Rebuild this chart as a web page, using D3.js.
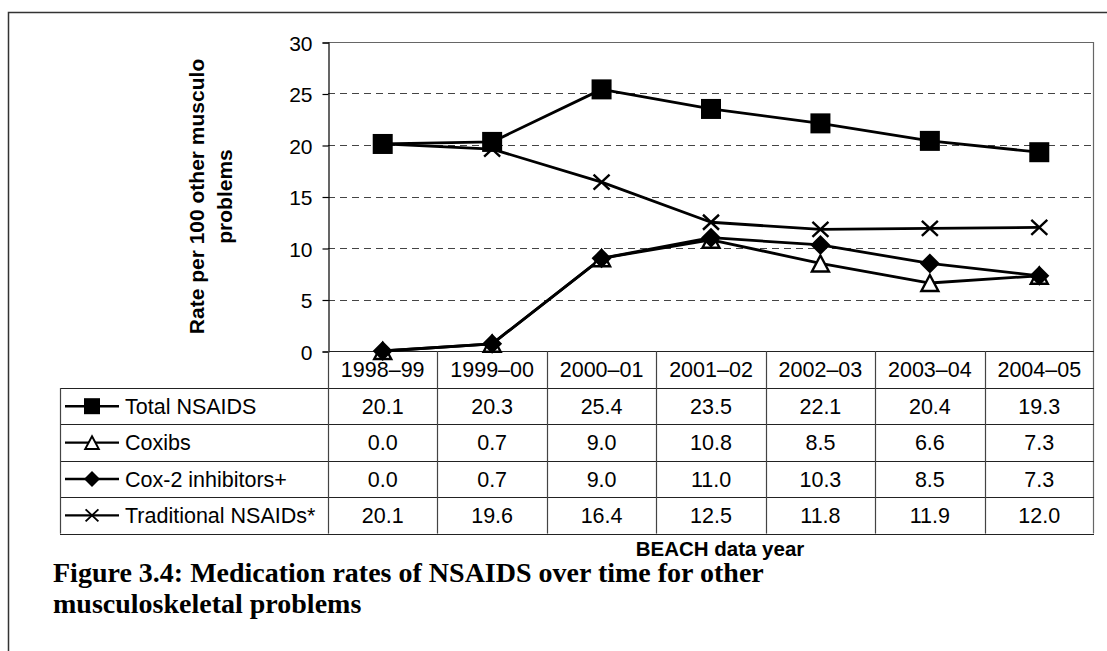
<!DOCTYPE html>
<html>
<head>
<meta charset="utf-8">
<script src="https://cdn.jsdelivr.net/npm/d3@7/dist/d3.min.js"></script>
<style>
  html, body { margin: 0; padding: 0; background: #fff; }
  svg { display: block; }
  text { font-family: "Liberation Sans", Arial, sans-serif; fill: #000; }
</style>
</head>
<body>
<svg id="chart" width="1107" height="651"></svg>
<script>
// Data: BEACH data year categories and rates per 100 other musculoskeletal problems
const categories = ["1998–99", "1999–00", "2000–01", "2001–02", "2002–03", "2003–04", "2004–05"];
const totalNsaids = [20.1, 20.3, 25.4, 23.5, 22.1, 20.4, 19.3];
const coxibs = [0.0, 0.7, 9.0, 10.8, 8.5, 6.6, 7.3];
const cox2Inhibitors = [0.0, 0.7, 9.0, 11.0, 10.3, 8.5, 7.3];
const traditionalNsaids = [20.1, 19.6, 16.4, 12.5, 11.8, 11.9, 12.0];
const seriesNames = ["Total NSAIDS", "Coxibs", "Cox-2 inhibitors+", "Traditional NSAIDs*"];
const seriesMarkers = ["square", "triangle", "diamond", "cross"];
const yTicks = [0, 5, 10, 15, 20, 25, 30];

const series = [totalNsaids, coxibs, cox2Inhibitors, traditionalNsaids].map((values, i) => ({
  name: seriesNames[i], marker: seriesMarkers[i], values
}));

const svg = d3.select("#chart");

// Layout
const plotLeft = 328, plotRight = 1094, plotTop = 42, plotBottom = 351;
const headerH = 37, rowH = 36.4;
const legendLeft = 60;
const tableBottom = plotBottom + headerH + rowH * series.length;
const tableFont = "21.5px";

const x = d3.scaleBand().domain(categories).range([plotLeft, plotRight]);
const y = d3.scaleLinear().domain([0, 30]).range([plotBottom, plotTop]);

// Outer frame (top and left edges)
svg.append("path")
  .attr("d", `M8.5,651 L8.5,12.5 L1107,12.5`)
  .attr("fill", "none").attr("stroke", "#333").attr("stroke-width", 1.5);

// Dashed gridlines
svg.append("g").selectAll("line")
  .data(yTicks.filter(t => t > 0 && t < 30))
  .join("line")
  .attr("x1", plotLeft).attr("x2", plotRight)
  .attr("y1", d => Math.round(y(d)) + 0.5).attr("y2", d => Math.round(y(d)) + 0.5)
  .attr("stroke", "#444").attr("stroke-width", 1)
  .attr("stroke-dasharray", "7,5");

// Plot frame: top and right
svg.append("path")
  .attr("d", `M${plotLeft},${plotTop + 0.5} L${plotRight - 0.5},${plotTop + 0.5} L${plotRight - 0.5},${tableBottom}`)
  .attr("fill", "none").attr("stroke", "#666").attr("stroke-width", 1.2);

// Y axis
const yAxis = d3.axisLeft(y).tickValues(yTicks).tickSize(6).tickPadding(10);
const gy = svg.append("g").attr("transform", `translate(${plotLeft + 0.5},0.5)`).call(yAxis);
gy.select(".domain").attr("stroke", "#000").attr("stroke-width", 1.2);
gy.selectAll(".tick line").attr("stroke", "#000").attr("stroke-width", 1.2);
gy.selectAll(".tick text")
  .style("font-family", '"Liberation Sans", Arial, sans-serif')
  .style("font-size", "21px").attr("fill", "#000").attr("dy", "0.36em");

// Y axis title (two lines, rotated)
const yTitle = svg.append("text")
  .attr("transform", `translate(0,${(plotTop + plotBottom) / 2}) rotate(-90)`)
  .attr("text-anchor", "middle")
  .style("font-weight", "bold").style("font-size", "21px");
yTitle.append("tspan").attr("x", 0).attr("y", 204).text("Rate per 100 other musculo");
yTitle.append("tspan").attr("x", 0).attr("y", 232).text("problems");

// Data table
const table = svg.append("g");
const rowTop = i => plotBottom + headerH + rowH * i;

// horizontal rules
const hLines = [{ y: plotBottom, x1: plotLeft }];
for (let i = 0; i <= series.length; i++) hLines.push({ y: rowTop(i), x1: legendLeft });
table.selectAll("line.h").data(hLines).join("line").attr("class", "h")
  .attr("x1", d => d.x1).attr("x2", plotRight)
  .attr("y1", d => Math.round(d.y) + 0.5).attr("y2", d => Math.round(d.y) + 0.5)
  .attr("stroke", "#222").attr("stroke-width", 1.2);

// vertical rules
const vLines = categories.map(c => ({ x: x(c), y1: plotBottom }));
vLines.push({ x: legendLeft, y1: rowTop(0) });
table.selectAll("line.v").data(vLines).join("line").attr("class", "v")
  .attr("x1", d => Math.round(d.x) + 0.5).attr("x2", d => Math.round(d.x) + 0.5)
  .attr("y1", d => d.y1).attr("y2", tableBottom)
  .attr("stroke", "#444").attr("stroke-width", 1.2);

// category labels in the header row
table.selectAll("text.cat").data(categories).join("text").attr("class", "cat")
  .attr("x", d => x(d) + x.bandwidth() / 2)
  .attr("y", plotBottom + headerH / 2 + 7.5)
  .attr("text-anchor", "middle").style("font-size", tableFont)
  .text(d => d);

// value cells
series.forEach((s, si) => {
  table.append("g").selectAll("text").data(s.values).join("text")
    .attr("x", (d, i) => x(categories[i]) + x.bandwidth() / 2)
    .attr("y", rowTop(si) + rowH / 2 + 7.5)
    .attr("text-anchor", "middle").style("font-size", tableFont)
    .text(d => d.toFixed(1));
});

// Marker shapes
function drawMarker(g, type, cx, cy) {
  if (type === "square") {
    g.append("rect").attr("x", cx - 10).attr("y", cy - 10).attr("width", 20).attr("height", 20)
      .attr("fill", "#000");
  } else if (type === "triangle") {
    g.append("path")
      .attr("d", `M${cx},${cy - 8} L${cx + 8.5},${cy + 8} L${cx - 8.5},${cy + 8} Z`)
      .attr("fill", "#fff").attr("stroke", "#000").attr("stroke-width", 2.4)
      .attr("stroke-linejoin", "miter");
  } else if (type === "diamond") {
    g.append("path")
      .attr("d", `M${cx},${cy - 10} L${cx + 10},${cy} L${cx},${cy + 10} L${cx - 10},${cy} Z`)
      .attr("fill", "#000");
  } else if (type === "cross") {
    g.append("path")
      .attr("d", `M${cx - 8},${cy - 7.5} L${cx + 8},${cy + 7.5} M${cx - 8},${cy + 7.5} L${cx + 8},${cy - 7.5}`)
      .attr("fill", "none").attr("stroke", "#000").attr("stroke-width", 2.4);
  }
}

const cx = c => x(c) + x.bandwidth() / 2;
const line = d3.line().x((d, i) => cx(categories[i])).y(d => y(d));

// Series lines
const lines = svg.append("g");
series.forEach(s => {
  lines.append("path").datum(s.values)
    .attr("d", line)
    .attr("fill", "none").attr("stroke", "#000").attr("stroke-width", 2.8)
    .attr("stroke-linejoin", "round");
});

// Series markers
const markers = svg.append("g");
series.forEach(s => {
  s.values.forEach((v, i) => drawMarker(markers, s.marker, cx(categories[i]), y(v)));
});

// Legend keys in the table rows
series.forEach((s, si) => {
  const cy = rowTop(si) + rowH / 2;
  const g = table.append("g");
  g.append("line").attr("x1", 65).attr("x2", 119).attr("y1", cy).attr("y2", cy)
    .attr("stroke", "#000").attr("stroke-width", 2.4);
  const lg = g.append("g").attr("transform", `translate(${92},${cy}) scale(0.8) translate(${-92},${-cy})`);
  drawMarker(lg, s.marker, 92, cy);
  g.append("text").attr("x", 125).attr("y", cy + 7.5).style("font-size", tableFont).text(s.name);
});

// X axis title
svg.append("text")
  .attr("x", 720).attr("y", 556)
  .attr("text-anchor", "middle")
  .style("font-weight", "bold").style("font-size", "20.5px")
  .text("BEACH data year");

// Figure caption
const caption = svg.append("text")
  .style("font-family", '"Liberation Serif", "Times New Roman", serif')
  .style("font-weight", "bold").style("font-size", "28px");
caption.append("tspan").attr("x", 53).attr("y", 582)
  .text("Figure 3.4: Medication rates of NSAIDS over time for other");
caption.append("tspan").attr("x", 53).attr("y", 613)
  .text("musculoskeletal problems");
</script>
</body>
</html>
